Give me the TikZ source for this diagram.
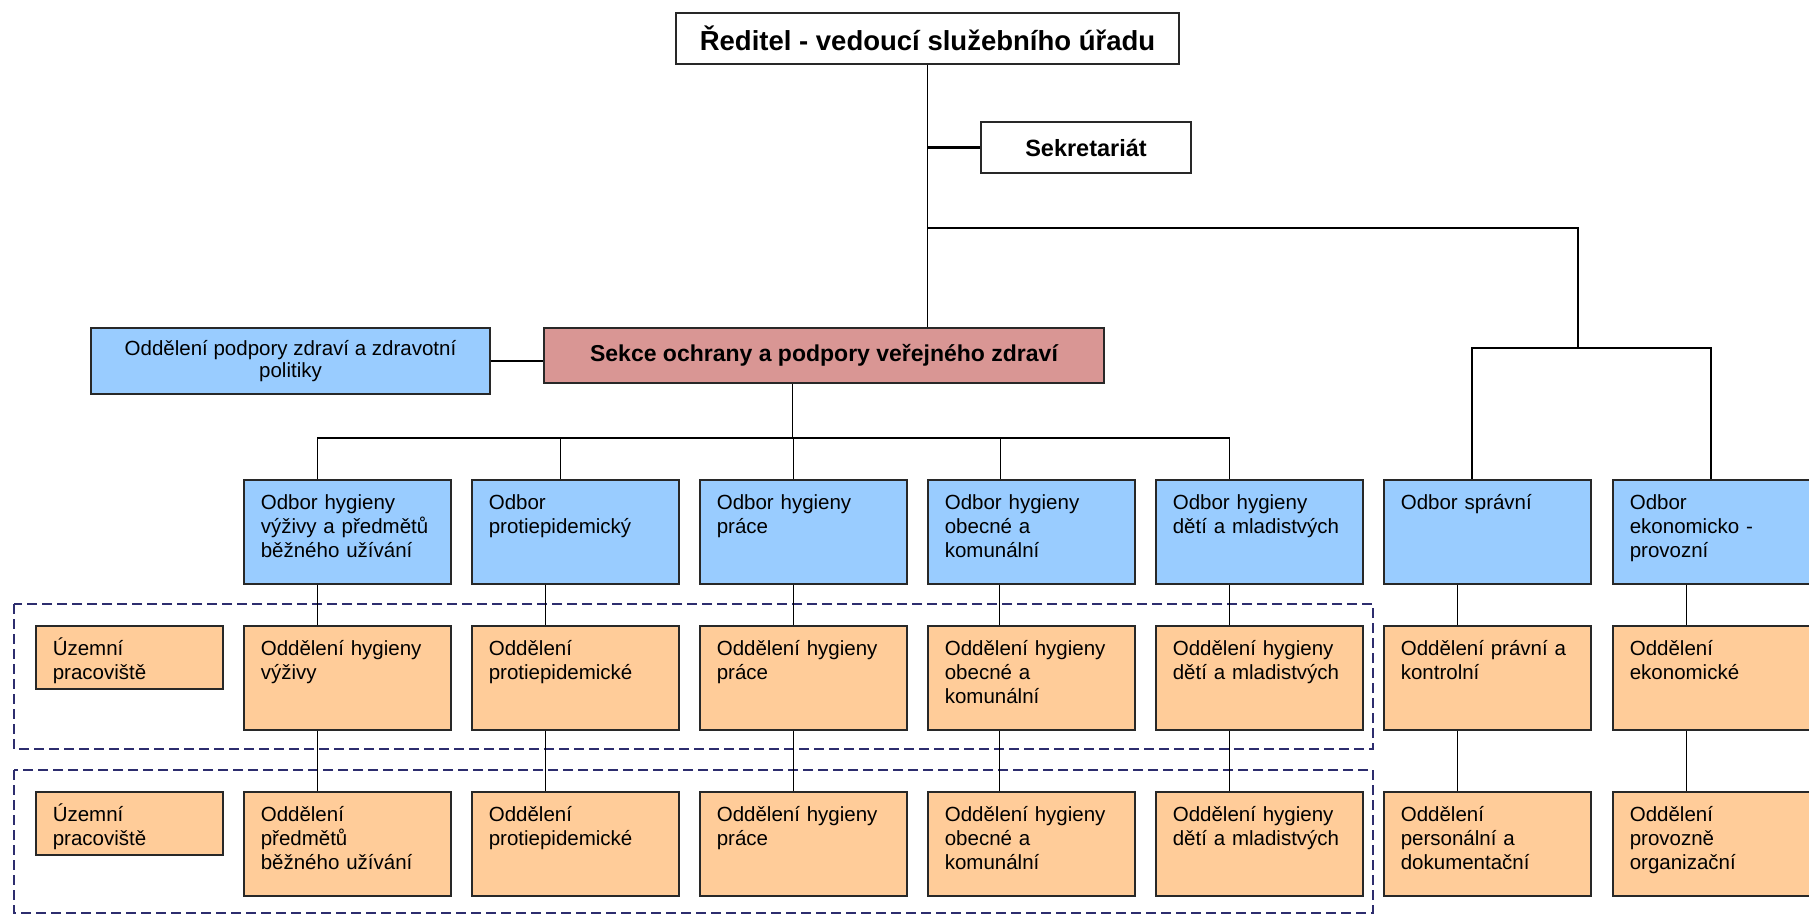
\documentclass[tikz,border=0pt]{standalone}
\usepackage{fontspec}
\setmainfont{Liberation Sans}

\definecolor{modra}{RGB}{153,204,255}
\definecolor{oranzova}{RGB}{255,204,153}
\definecolor{cervena}{RGB}{217,150,148}
\definecolor{obrys}{RGB}{40,40,40}
\definecolor{carkovana}{RGB}{45,45,110}

\begin{document}
\begin{tikzpicture}[x=1pt,y=-1pt,line width=1.4pt,
  box/.style={draw=obrys,line width=1.6pt,anchor=north west,inner xsep=17pt,inner ysep=0pt,
    text width=173pt,align=left,text height=29.5pt,font=\fontsize{20.5}{24}\selectfont},
  odbor/.style={box,fill=modra,text depth=74.5pt},
  oddeleni/.style={box,fill=oranzova,text depth=74.5pt},
  pracoviste/.style={box,fill=oranzova,text width=153pt,text depth=33.5pt},
  hlavni/.style={draw=obrys,line width=1.6pt,minimum height=51pt,font=\bfseries\fontsize{23.5}{28}\selectfont},
  skupina/.style={draw=carkovana,line width=2pt,dash pattern=on 10pt off 5pt}]

  \useasboundingbox (0,0) rectangle (1809,915);

  % uzemni pracoviste
  \draw[skupina] (14,604) rectangle (1373,749);
  \draw[skupina] (14,770) rectangle (1373,913);

  \node[hlavni,minimum width=503pt,font=\bfseries\fontsize{27.5}{32}\selectfont] (reditel) at (927.5,38.5) {Ředitel - vedoucí služebního úřadu};
  \node[hlavni,minimum width=210pt] (sekretariat) at (1086,147.5) {Sekretariát};
  \node[hlavni,fill=cervena,minimum width=560pt,minimum height=55pt,font=\bfseries\fontsize{23}{28}\selectfont] (sekce) at (824,355.5) {Sekce ochrany a podpory veřejného zdraví};
  \node[draw=obrys,line width=1.6pt,fill=modra,minimum width=399pt,minimum height=66pt,align=center,
    font=\fontsize{20.5}{22}\selectfont] (podpora) at (290.5,361) {Oddělení podpory zdraví a zdravotní\\politiky};

  % odbory
  \node[odbor] (od1) at (243,479)  {Odbor hygieny\\výživy a předmětů\\běžného užívání};
  \node[odbor] (od2) at (471,479)  {Odbor\\protiepidemický};
  \node[odbor] (od3) at (699,479)  {Odbor hygieny\\práce};
  \node[odbor] (od4) at (927,479)  {Odbor hygieny\\obecné a\\komunální};
  \node[odbor] (od5) at (1155,479) {Odbor hygieny\\dětí a mladistvých};
  \node[odbor] (od6) at (1383,479) {Odbor správní};
  \node[odbor] (od7) at (1612,479) {Odbor\\ekonomicko -\\provozní};

  % oddeleni, prvni rada
  \node[pracoviste] (pa0) at (35,625) {Územní\\pracoviště};
  \node[oddeleni] (pa1) at (243,625)  {Oddělení hygieny\\výživy};
  \node[oddeleni] (pa2) at (471,625)  {Oddělení\\protiepidemické};
  \node[oddeleni] (pa3) at (699,625)  {Oddělení hygieny\\práce};
  \node[oddeleni] (pa4) at (927,625)  {Oddělení hygieny\\obecné a\\komunální};
  \node[oddeleni] (pa5) at (1155,625) {Oddělení hygieny\\dětí a mladistvých};
  \node[oddeleni] (pa6) at (1383,625) {Oddělení právní a\\kontrolní};
  \node[oddeleni] (pa7) at (1612,625) {Oddělení\\ekonomické};

  % oddeleni, druha rada
  \node[pracoviste] (pb0) at (35,791) {Územní\\pracoviště};
  \node[oddeleni] (pb1) at (243,791)  {Oddělení\\předmětů\\běžného užívání};
  \node[oddeleni] (pb2) at (471,791)  {Oddělení\\protiepidemické};
  \node[oddeleni] (pb3) at (699,791)  {Oddělení hygieny\\práce};
  \node[oddeleni] (pb4) at (927,791)  {Oddělení hygieny\\obecné a\\komunální};
  \node[oddeleni] (pb5) at (1155,791) {Oddělení hygieny\\dětí a mladistvých};
  \node[oddeleni] (pb6) at (1383,791) {Oddělení\\personální a\\dokumentační};
  \node[oddeleni] (pb7) at (1612,791) {Oddělení\\provozně\\organizační};

  \coordinate (rozdel) at (927.5,228);
  \coordinate (pravy) at (1578,348);
  \coordinate (sbus) at (792.5,438);

  \draw (reditel.south) -- (reditel.south |- sekce.north);
  \draw[line width=3pt] (sekretariat.west) -- (sekretariat.west -| reditel.south);
  \draw (rozdel) -| (pravy);
  \draw ([xshift=-15.5pt]od6.north) |- (pravy) -| ([xshift=-5.5pt]od7.north);
  \draw (podpora.east) -- (podpora.east -| sekce.west);
  \draw (sekce.south -| sbus) -- (sbus);
  \draw ([xshift=-30pt]od1.north) |- (sbus) -| ([xshift=-30pt]od5.north);
  \draw ([xshift=-15pt]od2.north) -- ([xshift=-15pt]od2.north |- sbus);
  \draw ([xshift=-10pt]od3.north) -- ([xshift=-10pt]od3.north |- sbus);
  \draw ([xshift=-31pt]od4.north) -- ([xshift=-31pt]od4.north |- sbus);

  \foreach \i/\d in {1/-30,2/-30,3/-10,4/-32,5/-30,6/-30,7/-30}
    \draw ([xshift=\d pt]od\i.south) -- ([xshift=\d pt]pa\i.north)
          ([xshift=\d pt]pa\i.south) -- ([xshift=\d pt]pb\i.north);

\end{tikzpicture}
\end{document}
